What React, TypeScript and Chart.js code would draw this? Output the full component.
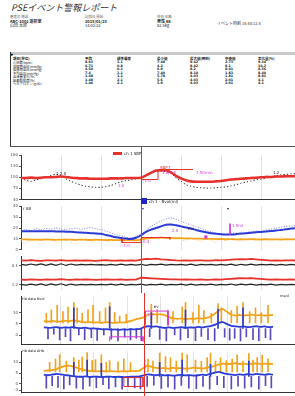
import React, { useEffect, useRef } from "react";
import { Chart, registerables } from "chart.js";

Chart.register(...registerables);

const FONT = '"DejaVu Sans", "Noto Sans CJK JP", sans-serif';
const JP = '"Noto Sans CJK JP", "DejaVu Sans", sans-serif';

// ---------- time axis (seconds, event at 0) ----------
const EVENT_T = 0;
const X_MIN = -120;
const X_MAX = 154;
const GRID_T = [-80, -40, 0, 40, 80, 120];
const TIME = [
  -120, -115, -110, -105, -100, -95, -90, -85, -80, -75, -70, -65, -60, -55, -50, -45, -40, -35, -30, -25, -20, -15, -10, -5,
  0, 5, 10, 15, 20, 25, 30, 35, 40, 45, 50, 55, 60, 65, 70, 75, 80, 85, 90, 95, 100, 105, 110, 115, 120, 125, 130, 135, 140, 145, 150, 155,
];

// ---------- header / table ----------
const TITLE = "PSEイベント警報レポート";
const INFO_1 = ["患者ID  施設", "ABC-1001  透析室", "山田 太郎"];
const INFO_2 = ["記録日  開始", "2015/01/23", "14:02:33"];
const INFO_3 = ["性別 年齢", "男性 68", "62.5kg"];
const INFO_4 = ["イベント時刻  14:44:12.4"];
const TABLE_HEAD = ["項目(単位)", "平均", "標準偏差", "最小値", "最大値(時刻)", "中央値", "変化量(%)"];
const ROW_NAMES = ["心拍数(bpm)", "収縮期血圧(mmHg)", "拡張期血圧(mmHg)", "平均血圧(mmHg)", "血液量変化(%)", "酸素飽和度(%)", "ヘモグロビン(g/dL)"];
const COL_MEAN = ["8.93", "6.71", "4.50", "7.4", "1.48", "1.48", "1.46"];
const COL_SD = ["1.1", "0.8", "0.1", "1.1", "1.1", "2.1", "2.1"];
const COL_MIN = ["7.48", "4.2", "6.9", "7.40", "5.78", "5.6", "5.9"];
const COL_MAX = ["9.42", "8.42", "8.2", "8.10", "4.03", "4.03", "4.03"];
const COL_MED = ["2.73", "8.1", "8.01", "1.83", "1.81", "2.01", "2.01"];
const COL_CHG = ["9.34", "10.2", "8.56", "8.40", "8.81", "4.1", "4.1"];

// ---------- panel 1: SBP ----------
const P1_RED = [
  98, 98, 99, 98, 99, 100, 100, 101, 102, 101, 99, 98, 97, 97, 96, 96, 96, 96, 97, 97, 97, 98, 98, 98,
  99, 105, 112, 118, 119, 119, 113, 104, 97, 92, 89, 88, 88, 88, 88, 89, 90, 92, 94, 95, 96, 97, 98, 99, 100, 101, 101, 102, 102, 103, 103, 103,
];
const P1_BLACK = [
  98, 92, 89, 93, 96, 101, 105, 108, 104, 96, 89, 84, 79, 76, 74, 73, 73, 75, 78, 83, 88, 91, 93, 96,
  101, 106, 112, 116, 116, 115, 112, 98, 90, 80, 76, 73, 72, 71, 71, 72, 73, 74, 77, 80, 84, 87, 90, 93, 95, 98, 101, 104, 107, 108, 109, 110,
];
const P1_STEP_T = [0, 17, 17];
const P1_STEP_V = [94, 94, 119];
const P1_BRACKET_T = [17, 52];
const P1_BRACKET_V = [121, 121];

// ---------- panel 2: blood volume ----------
const P2_BLUE = [
  17, 17, 17, 17, 17, 17, 17, 16.8, 16.7, 16.6, 16.5, 16, 15.8, 15.5, 15.2, 15, 14.6, 13.5, 12.5, 11.5, 10.8, 10.2, 9.8, 11,
  13.3, 16.5, 18.5, 20, 21.5, 23, 23.3, 22.5, 21.5, 20.5, 19.5, 18.2, 17, 16, 15.2, 14.6, 14.2, 14, 14, 14.3, 14.8, 15.2, 15.6, 16, 16.4, 16.8, 17.2, 17.6, 18.2, 18.8, 19.5, 20,
];
const P2_BLUE_RAW = [
  18.0, 18.6, 17.5, 19.2, 18.4, 19.6, 18.8, 20.2, 19.0, 18.2, 19.4, 20.0, 18.6, 19.8, 20.4, 19.2, 18.5, 17.0, 15.4, 13.8, 12.6, 11.4, 10.8, 12.0,
  14.5, 18.0, 21.5, 24.0, 26.5, 28.5, 29.5, 28.0, 26.2, 24.5, 22.8, 21.0, 19.6, 17.8, 16.5, 15.2, 14.6, 14.0, 14.8, 15.6, 14.2, 15.8, 16.6, 17.4, 16.8, 18.2, 19.0, 19.8, 20.6, 21.4, 22.0, 22.6,
];
const P2_ORANGE = [
  9.6, 9.4, 9.2, 9.3, 9.1, 9.4, 9.2, 9.0, 9.3, 9.1, 9.2, 9.0, 9.3, 9.1, 8.9, 9.2, 9.0, 8.8, 9.0, 8.7, 8.9, 8.6, 8.8, 8.7,
  9.4, 10.2, 10.6, 10.8, 11.0, 10.7, 10.9, 10.5, 10.6, 10.3, 10.4, 10.1, 10.2, 9.9, 10.0, 9.7, 9.8, 9.6, 9.7, 9.5, 9.6, 9.4, 9.7, 9.5, 9.3, 9.6, 9.4, 9.5, 9.3, 9.6, 9.4, 9.5,
];
const P2_ORANGE_RAW = [
  8.0, 5.5, 9.0, 7.2, 4.0, 8.5, 9.8, 6.0, 8.2, 10.5, 7.0, 5.2, 8.8, 9.6, 6.5, 7.8, 9.0, 8.1, 6.8, 9.2, 7.5, 6.0, 8.0, 7.2,
  9.0, 10.5, 11.8, 10.0, 12.0, 11.0, 9.5, 10.8, 9.2, 8.0, 10.4, 9.0, 7.5, 9.8, 8.6, 6.8, 9.4, 8.0, 10.2, 9.1, 7.6, 9.9, 10.5, 8.4, 11.2, 9.6, 8.2, 10.0, 11.4, 9.0, 10.6, 9.8,
];
const P2_BOX_T = [-19, -19, 0, 0];
const P2_BOX_V = [10, 6.5, 6.5, 10];
const P2_RED_T = [0, 29, 29];
const P2_RED_V = [11.2, 11.2, 9.6];
const P2_MARK_T = [89, 89];
const P2_MARK_V = [24, 14];

// ---------- panel 3: noise channels ----------
const P3_RED_A = [
  35.2, 34.8, 35.4, 35.0, 34.7, 35.3, 35.1, 34.9, 35.5, 35.0, 34.8, 35.2, 34.9, 35.3, 35.0, 34.7, 35.1, 35.4, 34.9, 35.0, 35.2, 34.8, 35.1, 35.0,
  36.2, 37.0, 36.6, 37.2, 36.5, 36.0, 35.6, 35.2, 35.0, 35.3, 34.9, 35.1, 35.2, 34.8, 35.0, 35.4, 35.1, 35.6, 36.0, 36.4, 36.8, 36.5, 36.9, 36.3, 35.8, 35.4, 35.0, 35.2, 34.9, 35.1, 35.3, 35.0,
];
const P3_BLACK_A = [
  30.3, 29.4, 30.8, 29.5, 30.9, 29.2, 31.0, 29.3, 31.1, 29.1, 30.8, 29.4, 30.4, 29.7, 30.3, 29.8, 30.2, 29.6, 30.5, 29.5, 30.6, 29.4, 30.4, 29.6,
  30.5, 29.3, 30.4, 29.7, 30.7, 29.4, 30.3, 29.8, 30.5, 29.5, 30.6, 29.3, 30.3, 29.7, 30.5, 29.4, 30.4, 29.6, 30.7, 29.3, 30.5, 29.6, 30.6, 29.4, 30.3, 29.7, 30.5, 29.5, 30.4, 29.6, 30.3, 29.8,
];
const P3_RED_B = [
  12.2, 11.8, 12.4, 12.0, 11.7, 12.3, 12.1, 11.9, 12.5, 12.0, 11.8, 12.2, 11.9, 12.3, 12.0, 11.7, 12.1, 12.4, 11.9, 12.0, 12.2, 11.8, 12.1, 12.0,
  14.5, 14.0, 13.6, 13.2, 12.8, 12.5, 12.2, 12.4, 12.0, 12.3, 11.9, 12.1, 12.2, 11.8, 12.0, 12.4, 12.1, 12.6, 13.0, 13.4, 13.8, 13.5, 13.9, 13.3, 12.8, 12.4, 12.0, 12.2, 11.9, 12.1, 12.3, 12.0,
];
const P3_BLACK_B = [
  6.2, 5.4, 6.6, 5.5, 6.8, 5.2, 6.9, 5.3, 7.0, 5.1, 6.7, 5.4, 6.4, 5.7, 6.3, 5.8, 6.2, 5.6, 6.5, 5.5, 6.6, 5.4, 6.4, 5.6,
  6.5, 5.3, 6.4, 5.7, 6.7, 5.4, 6.3, 5.8, 6.5, 5.5, 6.6, 5.3, 6.3, 5.7, 6.5, 5.4, 6.4, 5.6, 6.7, 5.3, 6.5, 5.6, 6.6, 5.4, 6.3, 5.7, 6.5, 5.5, 6.4, 5.6, 6.3, 5.8,
];

// ---------- panel 4 ----------
const P4_ORANGE = [
  6.2, 6.0, 6.3, 6.1, 6.0, 6.4, 6.2, 6.5, 6.3, 5.9, 5.7, 5.8, 5.6, 5.7, 5.5, 5.8, 5.6, 5.5, 5.7, 5.6, 5.9, 6.3, 7.0, 7.4,
  8.0, 9.0, 9.3, 9.1, 9.2, 8.8, 8.0, 7.4, 7.2, 7.4, 7.1, 7.3, 7.2, 7.5, 7.3, 7.6, 8.2, 9.4, 10.8, 11.5, 10.2, 9.0, 8.7, 8.9, 8.6, 8.8, 9.1, 8.7, 8.9, 8.6, 8.8, 8.9,
];
const P4_BLUE = [
  3.5, 3.3, 3.4, 3.6, 3.3, 3.5, 3.4, 3.6, 3.3, 3.2, 3.4, 3.0, 3.1, 2.9, 2.6, 2.7, 2.5, 2.6, 2.4, 2.6, 2.5, 2.7, 2.6, 2.8,
  3.6, 4.0, 3.8, 3.9, 3.6, 3.3, 3.5, 3.2, 3.4, 3.6, 3.3, 3.5, 3.4, 3.7, 3.5, 3.8, 4.1, 4.6, 5.5, 5.8, 4.9, 4.2, 3.9, 3.7, 3.9, 3.6, 3.8, 4.0, 3.7, 3.9, 3.6, 3.8,
];
const P4_OSPIKE_T = [-117, -111, -104, -97, -91, -84, -80, -74, -67, -61, -53, -46, -41, -35, -29, -21, 9, 16, 35, 46, 50, 59, 66, 72, 81, 89, 93, 105, 112, 119, 127, 134, 141, 149];
const P4_OSPIKE_V = [9.6, 11.2, 13.1, 10.4, 12.3, 14.3, 12, 9.6, 11.2, 13.1, 10.4, 12, 14.3, 10, 8.4, 9.2, 13.5, 11.2, 10.4, 12.3, 14.3, 10, 13.1, 10.8, 9.6, 13.9, 12, 10.8, 12.7, 14.3, 10.4, 12, 10, 13.1];
const P4_BDOWN_T = [-115, -108, -101, -94, -88, -78, -71, -63, -56, -48, -39, -31, -23, -16, -9, -3, 7, 19, 27, 37, 44, 53, 62, 69, 77, 85, 97, 103, 109, 116, 123, 131, 138, 146, 152];
const P4_BDOWN_V = [-1.5, 0.5, -2, -0.5, -2.4, 0, -1.8, -1, -2.2, 0.2, -1.6, -2.4, -0.8, -2, -1.2, -2.3, -0.5, -1.7, -2.4, 0, -2, -1, -2.3, -0.4, -1.9, -2.4, -0.8, -2.1, -1.3, -2.4, -0.6, -1.9, -2.3, -1, -2];
const P4_BUP_T = [-84, -41, 9, 50, 89, 119];
const P4_BUP_V = [12, 12.5, 10, 11, 11.5, 12];
const P4_BOX_T = [2, 2, 29, 29];
const P4_BOX_V = [4.6, 10.6, 10.6, 4.6];
const P4_RED_T = [29, 29];
const P4_RED_V = [4.0, 11.2];
const P4_LOWBOX_T = [-41, -41, -1, -1];
const P4_LOWBOX_V = [-2.6, -0.6, -0.6, -2.6];

// ---------- panel 5 ----------
const P5_ORANGE = [
  6.0, 6.2, 6.4, 6.8, 7.6, 8.2, 8.4, 8.0, 7.4, 6.8, 6.3, 6.0, 5.9, 5.8, 6.0, 5.7, 5.9, 5.8, 5.7, 5.9, 5.8, 6.0, 5.9, 6.1,
  7.5, 8.4, 7.8, 7.4, 7.2, 7.3, 7.1, 7.4, 7.2, 7.3, 7.0, 7.2, 7.5, 7.3, 7.1, 7.4, 7.8, 8.3, 9.0, 9.4, 9.1, 9.3, 9.6, 9.2, 9.4, 9.0, 9.3, 9.5, 9.1, 9.4, 9.2, 9.3,
];
const P5_BLUE = [
  4.2, 4.0, 4.3, 4.6, 4.4, 4.1, 3.9, 3.6, 3.4, 3.3, 3.5, 3.2, 3.4, 3.3, 3.1, 3.3, 3.4, 3.2, 3.3, 3.1, 3.2, 3.4, 3.3, 3.5,
  4.0, 4.4, 4.2, 4.0, 4.3, 3.9, 4.1, 3.8, 4.0, 4.2, 3.9, 4.1, 3.8, 4.0, 4.3, 4.1, 4.6, 5.2, 5.6, 5.0, 4.6, 4.3, 4.1, 4.4, 4.2, 4.5, 4.3, 4.6, 4.4, 4.2, 4.5, 4.3,
];
const P5_OSPIKE_T = [-113, -106, -101, -93, -84, -78, -74, -68, -62, -58, -51, -45, -41, -31, -24, -16, 5, 11, 19, 26, 32, 39, 46, 52, 62, 69, 76, 80, 86, 92, 99, 106, 112, 119, 126, 131, 136, 142, 149];
const P5_OSPIKE_V = [10, 11.5, 13.4, 10.5, 12.2, 11, 12.4, 14.5, 10.8, 11.2, 13.4, 10, 10.8, 10.2, 11.6, 9.8, 11.5, 10.5, 14.2, 12.6, 12, 10.5, 14.2, 13.4, 11, 10.4, 12.2, 14.2, 10.5, 12, 10.8, 11.5, 13.4, 10.5, 14, 11, 12.2, 13.2, 11.6];
const P5_BDOWN_T = [-117, -110, -103, -96, -89, -81, -73, -65, -57, -49, -42, -34, -26, -19, -11, -4, 4, 12, 21, 29, 37, 45, 54, 63, 71, 79, 88, 96, 105, 113, 121, 129, 138, 146, 153];
const P5_BDOWN_V = [-2, -0.8, -1.6, -2.3, -0.5, -1.9, -2.4, -1, -1.7, -0.3, -2.2, -1.4, -2.4, -0.9, -1.8, -2.3, -1.2, -0.6, -2.1, -1.5, -2.4, -0.7, -1.9, -2.2, -1.1, -2.4, -0.4, -1.7, -2.3, -1, -2, -1.4, -2.4, -0.8, -1.8];
const P5_BUP_T = [-84, -68, -51, 19, 46, 80, 126];
const P5_BUP_V = [10, 11, 9.5, 10, 11, 9, 10.5];
const P5_BOX_T = [-24, -24, -1, -1, -24];
const P5_BOX_V = [-1.2, 2.9, 2.9, -1.2, -1.2];
const P5_MARK_T = [1, 1];
const P5_MARK_V = [5.3, 11];

// ---------- colours ----------
const RED = "#e6302b";
const BLACK = "#222222";
const BLUE = "#2b3bd4";
const BLUE_LIGHT = "#5a66dc";
const ORANGE = "#f2a31c";
const ORANGE_LIGHT = "#f6c466";
const MAGENTA = "#d63ad6";
const PURPLE = "#5a48bc";

type Note = { t: number; v: number; text: string; color: string };

const pts = (ts: number[], vs: number[]) => ts.map((t, i) => ({ x: t, y: vs[i] }));

const line = (data: any[], color: string, width: number, extra: any = {}) => ({
  type: "line",
  data,
  borderColor: color,
  backgroundColor: color,
  borderWidth: width,
  pointRadius: 0,
  tension: 0.25,
  fill: false,
  ...extra,
});

const bars = (ts: number[], base: number, tops: number[], color: string) => ({
  type: "bar",
  data: ts.map((t, i) => ({ x: t, y: [base, tops[i]] })),
  backgroundColor: color,
  borderWidth: 0,
  barThickness: 1,
  grouped: false,
});

type PanelSpec = {
  top: number;
  height: number;
  padTop: number;
  padBottom: number;
  yMin: number;
  yMax: number;
  yTicks: number[];
  yLabels: string[];
  xBorder: boolean;
  datasets: any[];
  notes: Note[];
};

const eventLinePlugin = {
  id: "eventLine",
  afterDatasetsDraw(chart: any) {
    const { ctx } = chart;
    const x = Math.round(chart.scales.x.getPixelForValue(EVENT_T)) + 0.5;
    ctx.save();
    ctx.strokeStyle = RED;
    ctx.lineWidth = 1;
    ctx.beginPath();
    ctx.moveTo(x, 0);
    ctx.lineTo(x, chart.height);
    ctx.stroke();
    ctx.restore();
  },
};

const notesPlugin = (items: Note[]) => ({
  id: "notes",
  afterDraw(chart: any) {
    const { ctx, scales } = chart;
    ctx.save();
    ctx.font = `4px ${FONT}`;
    ctx.textBaseline = "middle";
    for (const n of items) {
      ctx.fillStyle = n.color;
      ctx.fillText(n.text, scales.x.getPixelForValue(n.t), scales.y.getPixelForValue(n.v));
    }
    ctx.restore();
  },
});

function buildConfig(spec: PanelSpec): any {
  return {
    type: "line",
    data: { datasets: spec.datasets },
    plugins: [eventLinePlugin, notesPlugin(spec.notes)],
    options: {
      animation: false,
      responsive: false,
      maintainAspectRatio: false,
      layout: { padding: { top: spec.padTop, bottom: spec.padBottom, left: 0, right: 0 } },
      plugins: { legend: { display: false }, tooltip: { enabled: false } },
      scales: {
        x: {
          type: "linear",
          min: X_MIN,
          max: X_MAX,
          afterBuildTicks: (s: any) => {
            s.ticks = GRID_T.map((v) => ({ value: v }));
          },
          ticks: { display: false },
          grid: { color: "#e2e2e2", lineWidth: 1, drawTicks: false },
          border: { display: spec.xBorder, color: "#333", width: 1 },
          afterFit: (s: any) => {
            s.height = 0;
          },
        },
        y: {
          type: "linear",
          min: spec.yMin,
          max: spec.yMax,
          afterBuildTicks: (s: any) => {
            s.ticks = spec.yTicks.map((v) => ({ value: v }));
          },
          ticks: {
            font: { size: 4, family: FONT },
            color: "#555",
            padding: 1,
            autoSkip: false,
            callback: (v: any) => {
              const i = spec.yTicks.indexOf(Number(v));
              return i >= 0 ? spec.yLabels[i] : "";
            },
          },
          grid: { drawOnChartArea: false, tickLength: 2, color: "#555" },
          border: { display: true, color: "#333", width: 1 },
          afterFit: (s: any) => {
            s.width = 21;
          },
        },
      },
    },
  };
}

const PANELS: PanelSpec[] = [
  {
    top: 147, height: 56, padTop: 8, padBottom: 1,
    yMin: 40, yMax: 160, yTicks: [40, 70, 100, 130, 160], yLabels: ["40", "70", "100", "130", "160"],
    xBorder: true,
    datasets: [
      line(pts(P1_STEP_T, P1_STEP_V), RED, 1, { tension: 0 }),
      line(pts(P1_BRACKET_T, P1_BRACKET_V), RED, 1, { tension: 0 }),
      line(pts(TIME, P1_RED), RED, 2.6),
      line(pts(TIME, P1_BLACK), BLACK, 1, { borderDash: [1.2, 2.2] }),
    ],
    notes: [
      { t: 19, v: 125, text: "SBP↑", color: RED },
      { t: 21, v: 112, text: "1.0/1.5", color: MAGENTA },
      { t: 55, v: 113, text: "1.50mm", color: MAGENTA },
      { t: 2, v: 89, text: "-1.0", color: MAGENTA },
      { t: -23, v: 78, text: "1.0", color: MAGENTA },
      { t: -85, v: 110, text: "1.2.0", color: BLACK },
      { t: 132, v: 112, text: "1.2", color: BLACK },
    ],
  },
  {
    top: 203, height: 50, padTop: 1, padBottom: 2,
    yMin: 0, yMax: 40, yTicks: [0, 10, 20, 30, 40], yLabels: ["0", "10", "20", "30", "40"],
    xBorder: false,
    datasets: [
      line(pts(P2_MARK_T, P2_MARK_V), MAGENTA, 1, { tension: 0 }),
      line(pts(P2_BOX_T, P2_BOX_V), RED, 1, { tension: 0 }),
      line(pts(P2_RED_T, P2_RED_V), RED, 1, { tension: 0 }),
      line(pts(TIME, P2_BLUE), BLUE, 2),
      line(pts(TIME, P2_BLUE_RAW), BLUE_LIGHT, 0.8, { borderDash: [1, 1.6], tension: 0.1 }),
      line(pts(TIME, P2_ORANGE), ORANGE, 1.8),
      line(pts(TIME, P2_ORANGE_RAW), ORANGE_LIGHT, 0.8, { borderDash: [1, 1.6], tension: 0.1 }),
    ],
    notes: [
      { t: -118, v: 38, text: "r 88", color: BLACK },
      { t: 1, v: 38, text: "▾", color: BLUE },
      { t: 86, v: 38, text: "▾", color: BLACK },
      { t: -19, v: 3, text: "-1.0", color: MAGENTA },
      { t: 2, v: 7.5, text: "0.4", color: MAGENTA },
      { t: 31, v: 17, text: "2.0", color: MAGENTA },
      { t: 63, v: 11.5, text: "■", color: MAGENTA },
      { t: 91, v: 22, text: "1.5ml", color: MAGENTA },
      { t: 47, v: 19, text: "ms", color: BLACK },
    ],
  },
  {
    top: 253, height: 40, padTop: 0, padBottom: 0,
    yMin: 0, yMax: 40, yTicks: [6, 29], yLabels: ["1.2", "0.1"],
    xBorder: false,
    datasets: [
      line(pts(TIME, P3_RED_A), RED, 1.8, { tension: 0 }),
      line(pts(TIME, P3_BLACK_A), BLACK, 1.2, { tension: 0 }),
      line(pts(TIME, P3_RED_B), RED, 1.8, { tension: 0 }),
      line(pts(TIME, P3_BLACK_B), BLACK, 1.2, { tension: 0 }),
    ],
    notes: [],
  },
  {
    top: 293, height: 55, padTop: 0, padBottom: 1,
    yMin: -4, yMax: 17, yTicks: [0, 5, 10], yLabels: ["0", "5", "10"],
    xBorder: true,
    datasets: [
      line(pts(P4_BOX_T, P4_BOX_V), MAGENTA, 1, { tension: 0 }),
      line(pts(P4_RED_T, P4_RED_V), RED, 1, { tension: 0 }),
      line(pts(P4_LOWBOX_T, P4_LOWBOX_V), MAGENTA, 1, { tension: 0 }),
      line(pts(TIME, P4_BLUE), BLUE, 1.8, { tension: 0.1 }),
      bars(P4_BUP_T, 3, P4_BUP_V, BLUE),
      bars(P4_BDOWN_T, 3, P4_BDOWN_V, PURPLE),
      line(pts(TIME, P4_ORANGE), ORANGE, 1.8, { tension: 0.1 }),
      bars(P4_OSPIKE_T, 5.5, P4_OSPIKE_V, ORANGE),
    ],
    notes: [
      { t: 4, v: 9, text: "1.0", color: MAGENTA },
      { t: 12, v: 12.5, text: "ev", color: BLACK },
    ],
  },
  {
    top: 348, height: 48, padTop: 0, padBottom: 1,
    yMin: -4, yMax: 15, yTicks: [-3, 0, 5, 10], yLabels: ["-3", "0", "5", "10"],
    xBorder: true,
    datasets: [
      line(pts(P5_BOX_T, P5_BOX_V), RED, 1, { tension: 0 }),
      line(pts(P5_MARK_T, P5_MARK_V), MAGENTA, 1.5, { tension: 0, borderDash: [2, 1.5] }),
      line(pts(TIME, P5_BLUE), BLUE, 1.8, { tension: 0.1 }),
      bars(P5_BUP_T, 3.5, P5_BUP_V, BLUE),
      bars(P5_BDOWN_T, 3.5, P5_BDOWN_V, PURPLE),
      line(pts(TIME, P5_ORANGE), ORANGE, 1.8, { tension: 0.1 }),
      bars(P5_OSPIKE_T, 5.5, P5_OSPIKE_V, ORANGE),
    ],
    notes: [],
  },
];

function Panel({ spec }: { spec: PanelSpec }) {
  const ref = useRef<HTMLCanvasElement>(null);
  useEffect(() => {
    const chart = new Chart(ref.current as HTMLCanvasElement, buildConfig(spec));
    return () => chart.destroy();
  }, []);
  return (
    <canvas
      ref={ref}
      width={295}
      height={spec.height}
      style={{ position: "absolute", left: 0, top: spec.top, width: 295, height: spec.height }}
    />
  );
}

function Txt(props: { x: number; y: number; size: number; children: any; color?: string; bold?: boolean; italic?: boolean; family?: string }) {
  return (
    <div
      style={{
        position: "absolute",
        left: props.x,
        top: props.y,
        fontSize: props.size,
        lineHeight: 1,
        whiteSpace: "nowrap",
        color: props.color || "#333",
        fontWeight: props.bold ? 700 : 400,
        fontStyle: props.italic ? "italic" : "normal",
        fontFamily: props.family || JP,
      }}
    >
      {props.children}
    </div>
  );
}

function InfoBlock({ x, lines }: { x: number; lines: string[] }) {
  return (
    <>
      {lines.map((l, i) => (
        <Txt key={i} x={x} y={15 + i * 4} size={i === 0 ? 3.5 : 4} color={i === 0 ? "#666" : "#222"} bold={i === 1}>
          {l}
        </Txt>
      ))}
    </>
  );
}

export default function App() {
  const cols = [ROW_NAMES, COL_MEAN, COL_SD, COL_MIN, COL_MAX, COL_MED, COL_CHG];
  const colX = [13, 85, 117, 157, 190, 225, 258];
  return (
    <div style={{ position: "absolute", left: 0, top: 0, width: 295, height: 396, background: "#fff", overflow: "hidden" }}>
      <Txt x={11} y={3} size={9} italic color="#333">{TITLE}</Txt>
      <InfoBlock x={10} lines={INFO_1} />
      <InfoBlock x={85} lines={INFO_2} />
      <InfoBlock x={157} lines={INFO_3} />
      <Txt x={217} y={21} size={4} color="#333">{INFO_4[0]}</Txt>

      {/* table frame */}
      <div style={{ position: "absolute", left: 10, top: 52, width: 285, height: 3, background: "#c9c9c9" }} />
      <div style={{ position: "absolute", left: 10, top: 52, width: 1, height: 95, background: "#333" }} />
      <div style={{ position: "absolute", left: 10, top: 146, width: 285, height: 1, background: "#555" }} />
      <Txt x={11} y={51.5} size={5} color="#000" family={FONT}>▸</Txt>
      {TABLE_HEAD.map((h, i) => (
        <Txt key={"h" + i} x={colX[i]} y={57} size={3.5} color="#222" bold>{h}</Txt>
      ))}
      {ROW_NAMES.map((_, r) =>
        cols.map((c, ci) => (
          <Txt key={r + "-" + ci} x={colX[ci]} y={61 + r * 3.5} size={3.3} color="#222" bold={ci > 0} family={ci === 0 ? JP : FONT}>
            {c[r]}
          </Txt>
        ))
      )}

      {PANELS.map((p, i) => (
        <Panel key={i} spec={p} />
      ))}

      {/* legends / channel labels */}
      <div style={{ position: "absolute", left: 113, top: 152, width: 9, height: 3, background: RED }} />
      <Txt x={124} y={151.5} size={4} color="#222" family={FONT}>ch 1 SBP</Txt>
      <div style={{ position: "absolute", left: 141, top: 198, width: 6, height: 6, background: "#1f24c8" }} />
      <Txt x={149} y={199.5} size={4} color="#222" family={FONT}>ch 1 - Bvol(ml)</Txt>
      <Txt x={22} y={298} size={3.5} color="#222" family={FONT}>Hb data Bvol</Txt>
      <Txt x={280} y={295} size={3.5} color="#222" family={FONT}>ms/d</Txt>
      <Txt x={22} y={349.5} size={3.5} color="#222" family={FONT}>Hb data ΔHb</Txt>
    </div>
  );
}
